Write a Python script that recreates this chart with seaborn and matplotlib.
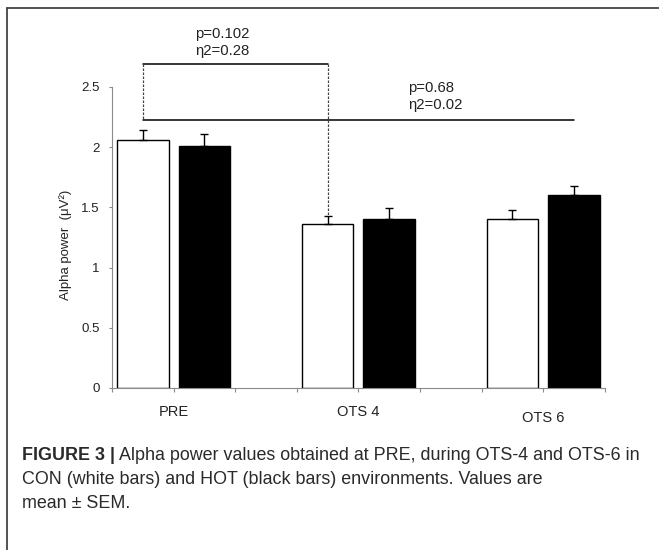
import matplotlib
matplotlib.use("Agg")
import matplotlib.pyplot as plt
from matplotlib.lines import Line2D
import seaborn as sns
import pandas as pd

# ---------------- data ----------------
phases = ["PRE", "OTS 4", "OTS 6"]
conditions = ["CON", "HOT"]
con_mean = [2.06, 1.36, 1.40]
hot_mean = [2.01, 1.40, 1.60]
con_sem = [0.08, 0.07, 0.08]
hot_sem = [0.10, 0.09, 0.08]
yticks = [0, 0.5, 1, 1.5, 2, 2.5]
ytick_labels = ["0", "0.5", "1", "1.5", "2", "2.5"]
ylabel = "Alpha power  (μV²)"
ann1 = ["p=0.102", "η2=0.28"]
ann2 = ["p=0.68", "η2=0.02"]
bracket_top = 2.69
bracket_low = 2.224
caption_bold = "FIGURE 3 |"
caption_rest = "Alpha power values obtained at PRE, during OTS-4 and OTS-6 in"
caption_lines = ["CON (white bars) and HOT (black bars) environments. Values are",
                 "mean ± SEM."]

# ---------------- style ----------------
sns.set_theme(style="white")
plt.rcParams["font.family"] = ["Liberation Sans", "DejaVu Sans"]

W, H = 659, 550
fig = plt.figure(figsize=(W / 100, H / 100), dpi=100)
ax = fig.add_axes([112 / W, 1 - 388 / H, 492.8 / W, 361.5 / H])

df = pd.DataFrame({
    "phase": phases * 2,
    "condition": ["CON"] * 3 + ["HOT"] * 3,
    "value": con_mean + hot_mean,
})
sns.barplot(data=df, x="phase", y="value", hue="condition", order=phases,
            hue_order=conditions, palette={"CON": "white", "HOT": "black"},
            edgecolor="black", linewidth=1.0, width=2 / 3, gap=0.16,
            errorbar=None, legend=False, saturation=1, ax=ax)

# error bars (upper only)
centers = {}
for p in ax.patches:
    xc = p.get_x() + p.get_width() / 2
    cat = int(round(xc))
    cond = "CON" if xc < cat else "HOT"
    centers[(cat, cond)] = xc
    m = (con_mean if cond == "CON" else hot_mean)[cat]
    s = (con_sem if cond == "CON" else hot_sem)[cat]
    ax.errorbar([xc], [m], yerr=[[0], [s]], fmt="none", ecolor="black",
                elinewidth=1.0, capsize=2.9, capthick=1.0, zorder=3)

# axes
ax.set_xlim(-1 / 3, 7 / 3)
ax.set_ylim(0, 3.0)
for side in ["top", "right"]:
    ax.spines[side].set_visible(False)
for side in ["left", "bottom"]:
    ax.spines[side].set_color("#8a8a8a")
    ax.spines[side].set_linewidth(0.8)
ax.spines["left"].set_bounds(0, 2.5)

ax.set_yticks(yticks, ytick_labels)
xt = [-1 / 3 + k / 3 for k in range(9)]
xl = ["", phases[0], "", "", phases[1], "", "", phases[2], ""]
ax.set_xticks(xt, xl)
ax.tick_params(axis="y", left=True, direction="out", length=2.5, width=0.8,
               color="#8a8a8a", pad=6.5, labelsize=9.5, labelcolor="#222222")
ax.tick_params(axis="x", bottom=True, direction="out", length=3, width=0.8,
               color="#8a8a8a", pad=9.5, labelsize=10.5, labelcolor="#222222")
fig.canvas.draw()
lab6 = ax.get_xticklabels()[7]
lab6.set_transform(lab6.get_transform() + matplotlib.transforms.ScaledTranslation(0, -6 / 100, fig.dpi_scale_trans))

ax.set_xlabel("")
ax.set_ylabel(ylabel, fontsize=9.5, color="#222222")
ax.yaxis.set_label_coords(-0.0806, 0.3956)

# significance brackets
x_pre = centers[(0, "CON")]
x_o4 = centers[(1, "CON")]
x_o6 = centers[(2, "HOT")]
ax.plot([x_pre, x_o4], [bracket_top, bracket_top], color="black", lw=1.1, clip_on=False)
ax.plot([x_pre, x_o6], [bracket_low, bracket_low], color="black", lw=1.1, clip_on=False)
ax.plot([x_pre, x_pre], [bracket_top, bracket_low], color="#444444", lw=0.9,
        ls=(0, (2, 1.2)), clip_on=False)
ax.plot([x_o4, x_o4], [bracket_top, con_mean[1] + con_sem[1]], color="#444444",
        lw=0.9, ls=(0, (2, 1.2)), clip_on=False)

ax.text(0.116, 2.938, ann1[0], fontsize=10.7, color="#222222", va="center", ha="left", clip_on=False)
ax.text(0.116, 2.80, ann1[1], fontsize=10.7, color="#222222", va="center", ha="left", clip_on=False)
ax.text(1.269, 2.487, ann2[0], fontsize=10.7, color="#222222", va="center", ha="left")
ax.text(1.269, 2.349, ann2[1], fontsize=10.7, color="#222222", va="center", ha="left")

# caption
cap_fs = 12.9
cap_col = "#2a2a2a"
t1 = fig.text(22 / W, 1 - 459.5 / H, caption_bold, fontsize=cap_fs, fontweight="bold",
              va="baseline", ha="left", color=cap_col)
fig.canvas.draw()
bb = t1.get_window_extent()
fig.text((bb.x1 + 4) / W, 1 - 459.5 / H, caption_rest, fontsize=cap_fs,
         va="baseline", ha="left", color=cap_col)
fig.text(22 / W, 1 - 483.5 / H, caption_lines[0], fontsize=cap_fs, va="baseline",
         ha="left", color=cap_col)
fig.text(22 / W, 1 - 507.5 / H, caption_lines[1], fontsize=cap_fs, va="baseline",
         ha="left", color=cap_col)

# frame
fig.add_artist(Line2D([7 / W, 1], [1 - 8 / H, 1 - 8 / H], transform=fig.transFigure,
                      color="#444444", lw=1.3))
fig.add_artist(Line2D([7 / W, 7 / W], [0, 1 - 8 / H], transform=fig.transFigure,
                      color="#444444", lw=1.3))

fig.savefig("out.png", dpi=100)
